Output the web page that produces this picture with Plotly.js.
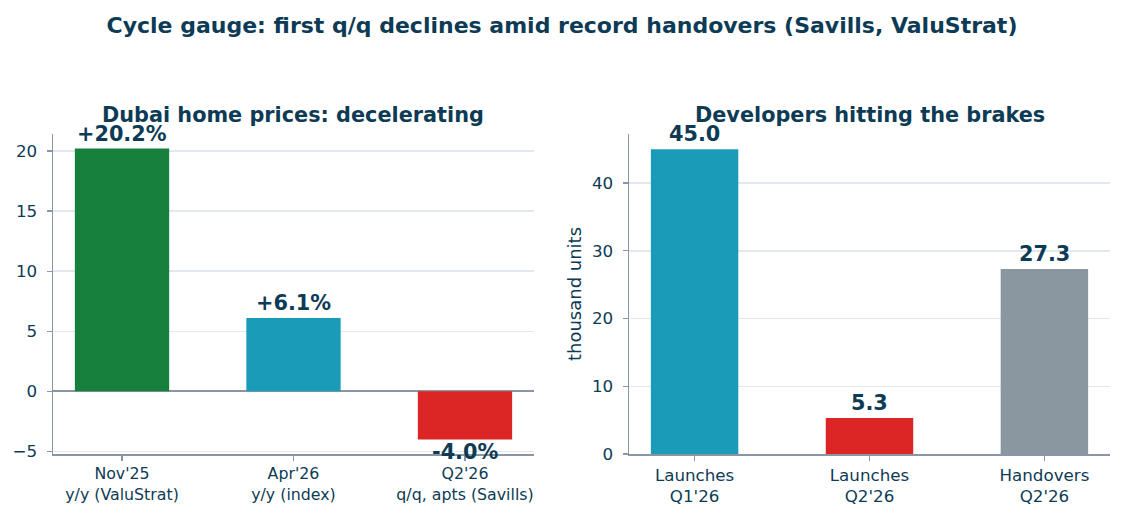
<!DOCTYPE html>
<html>
<head>
<meta charset="utf-8">
<script src="https://cdn.plot.ly/plotly-3.0.1.min.js"></script>
<style>
  html, body { margin: 0; padding: 0; background: #ffffff; }
  #chart { width: 1124px; height: 522px; }
</style>
</head>
<body>
<div id="chart"></div>
<script>
// Price growth by source
const priceCategories = ["Nov'25<br>y/y (ValuStrat)", "Apr'26<br>y/y (index)", "Q2'26<br>q/q, apts (Savills)"];
const priceValues = [20.2, 6.1, -4.0];
const priceColors = ["#17803d", "#1a9bb8", "#dc2626"];

// Supply pipeline, thousand units
const supplyCategories = ["Launches<br>Q1'26", "Launches<br>Q2'26", "Handovers<br>Q2'26"];
const supplyValues = [45.0, 5.3, 27.3];
const supplyColors = ["#1a9bb8", "#dc2626", "#8a96a0"];

const mainTitle = "Cycle gauge: first q/q declines amid record handovers (Savills, ValuStrat)";
const leftTitle = "Dubai home prices: decelerating";
const rightTitle = "Developers hitting the brakes";
const rightYTitle = "thousand units";

const NAVY = "#0d3b55";
const SPINE = "#8a96a3";
const GRID = "#e3e8ee";
const FONT = "DejaVu Sans, sans-serif";
const TICK_SIZE = 16.7;

function pctLabel(v) {
  return (v > 0 ? "+" : "") + v.toFixed(1) + "%";
}

const traces = [
  {
    type: "bar",
    x: priceCategories,
    y: priceValues,
    marker: { color: priceColors },
    width: 0.55,
    xaxis: "x",
    yaxis: "y",
    hoverinfo: "skip"
  },
  {
    type: "bar",
    x: supplyCategories,
    y: supplyValues,
    marker: { color: supplyColors },
    width: 0.5,
    xaxis: "x2",
    yaxis: "y2",
    hoverinfo: "skip"
  }
];

const annotations = [];
priceValues.forEach((v, i) => {
  annotations.push({
    xref: "x", yref: "y",
    x: priceCategories[i], y: v,
    text: "<b>" + pctLabel(v) + "</b>",
    showarrow: false,
    yanchor: v >= 0 ? "bottom" : "top",
    yshift: 1,
    font: { family: FONT, size: 20.8, color: NAVY }
  });
});
supplyValues.forEach((v, i) => {
  annotations.push({
    xref: "x2", yref: "y2",
    x: supplyCategories[i], y: v,
    text: "<b>" + v.toFixed(1) + "</b>",
    showarrow: false,
    yanchor: "bottom",
    yshift: 1,
    font: { family: FONT, size: 20.8, color: NAVY }
  });
});
annotations.push({
  xref: "paper", yref: "paper",
  x: 0.2611, y: 1 - 115 / 522,
  text: "<b>" + leftTitle + "</b>",
  showarrow: false, xanchor: "center", yanchor: "middle",
  font: { family: FONT, size: 20.8, color: NAVY }
});
annotations.push({
  xref: "paper", yref: "paper",
  x: 0.7736, y: 1 - 115 / 522,
  text: "<b>" + rightTitle + "</b>",
  showarrow: false, xanchor: "center", yanchor: "middle",
  font: { family: FONT, size: 20.8, color: NAVY }
});

const axisCommon = {
  showline: true,
  linecolor: SPINE,
  linewidth: 1.5,
  ticks: "outside",
  ticklen: 5,
  tickwidth: 1.3,
  tickcolor: SPINE,
  tickfont: { family: FONT, size: TICK_SIZE, color: NAVY },
  fixedrange: true
};

const layout = {
  width: 1124,
  height: 522,
  margin: { l: 0, r: 0, t: 0, b: 0 },
  paper_bgcolor: "#ffffff",
  plot_bgcolor: "#ffffff",
  showlegend: false,
  font: { family: FONT, color: NAVY },
  title: {
    text: "<b>" + mainTitle + "</b>",
    x: 0.5, xanchor: "center",
    y: 1 - 25 / 522, yanchor: "middle",
    font: { family: FONT, size: 22, color: NAVY }
  },
  xaxis: Object.assign({}, axisCommon, {
    domain: [53 / 1124, 534 / 1124],
    range: [-0.4025, 2.4025],
    anchor: "y",
    showgrid: false,
    zeroline: false,
    tickfont: { family: FONT, size: 15.8, color: NAVY }
  }),
  yaxis: Object.assign({}, axisCommon, {
    domain: [1 - 454 / 522, 1 - 134 / 522],
    range: [-5.21, 21.41],
    anchor: "x",
    tickvals: [-5, 0, 5, 10, 15, 20],
    ticktext: ["\u22125", "0", "5", "10", "15", "20"],
    ticklabelstandoff: 6,
    showgrid: true,
    gridcolor: GRID,
    gridwidth: 1.5,
    zeroline: true,
    zerolinecolor: SPINE,
    zerolinewidth: 1.8
  }),
  xaxis2: Object.assign({}, axisCommon, {
    domain: [629 / 1124, 1110 / 1124],
    range: [-0.375, 2.375],
    anchor: "y2",
    showgrid: false,
    zeroline: false
  }),
  yaxis2: Object.assign({}, axisCommon, {
    domain: [1 - 454 / 522, 1 - 134 / 522],
    range: [0, 47.25],
    anchor: "x2",
    tickvals: [0, 10, 20, 30, 40],
    ticklabelstandoff: 6,
    showgrid: true,
    gridcolor: GRID,
    gridwidth: 1.5,
    zeroline: false,
    title: { text: rightYTitle, font: { family: FONT, size: 18, color: NAVY }, standoff: 5 }
  }),
  annotations: annotations
};

Plotly.newPlot("chart", traces, layout, { displayModeBar: false, staticPlot: true });
</script>
</body>
</html>
